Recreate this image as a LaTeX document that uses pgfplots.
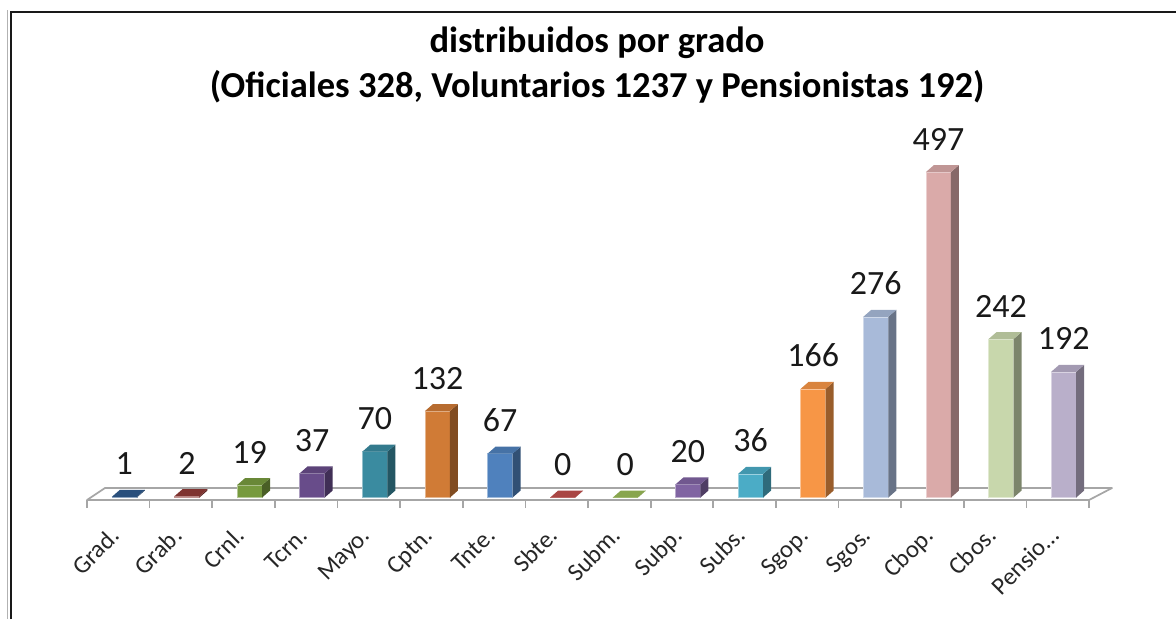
\documentclass[border=0pt]{standalone}
\usepackage{fontspec}
\setmainfont{Carlito}
\usepackage{pgfplots}
\pgfplotsset{compat=1.18}

\definecolor{f1}{HTML}{2F5A8D}
\definecolor{f2}{HTML}{8F3A37}
\definecolor{f3}{HTML}{779A3E}
\definecolor{f4}{HTML}{684C8A}
\definecolor{f5}{HTML}{3A8BA0}
\definecolor{f6}{HTML}{D07B36}
\definecolor{f7}{HTML}{4F81BD}
\definecolor{f8}{HTML}{C0504D}
\definecolor{f9}{HTML}{9BBB59}
\definecolor{f10}{HTML}{8064A2}
\definecolor{f11}{HTML}{4BACC6}
\definecolor{f12}{HTML}{F79646}
\definecolor{f13}{HTML}{A8BAD9}
\definecolor{f14}{HTML}{DAAAA9}
\definecolor{f15}{HTML}{C8D7AC}
\definecolor{f16}{HTML}{B9AFCA}
\newcommand{\mkshades}[1]{\colorlet{s#1}{f#1!62!black}\colorlet{t#1}{f#1!88!black}}
\mkshades{1}\mkshades{2}\mkshades{3}\mkshades{4}
\mkshades{5}\mkshades{6}\mkshades{7}\mkshades{8}
\mkshades{9}\mkshades{10}\mkshades{11}\mkshades{12}
\mkshades{13}\mkshades{14}\mkshades{15}\mkshades{16}
\definecolor{floorgray}{HTML}{A6A6A6}

\pgfplotsset{
  front/.style={ybar, bar width=18.75pt, bar shift=4.5pt, fill=#1, draw=#1!55!white, line width=0.4pt,
    nodes near coords,
    every node near coord/.append style={anchor=base, xshift=4.5pt, yshift=16.5pt, inner sep=0pt, text=black!90, font=\fontsize{25.5}{29}\selectfont}},
}

% side and top faces of a bar: #1 = category position, #2 = value, #3 = colour index
\newcommand{\sidetop}[3]{%
  \pgfmathsetmacro{\xa}{#1+0.29541}%
  \pgfmathsetmacro{\xb}{#1+0.42315}%
  \pgfmathsetmacro{\xc}{#1-0.10379}%
  \pgfmathsetmacro{\xd}{#1+0.02395}%
  \pgfmathsetmacro{\yt}{#2+10.689}%
  \edef\tmp{\noexpand\addplot[fill=s#3, draw=none, forget plot] coordinates {(\xa,0) (\xb,10.689) (\xb,\yt) (\xa,#2)} -- cycle;}\tmp
  \edef\tmp{\noexpand\addplot[fill=t#3, draw=none, forget plot] coordinates {(\xc,#2) (\xa,#2) (\xb,\yt) (\xd,\yt)} -- cycle;}\tmp
}

\begin{document}
\begin{tikzpicture}
\begin{scope}[x=0.75pt,y=-0.75pt]
\path[use as bounding box] (0,0) rectangle (1176,619);
\draw[black!30, line width=1.2pt] (7.5,619) -- (7.5,10);
\draw[black!90, line width=1.8pt] (11,619) -- (11,12) -- (1176,12);
\node[anchor=base, inner sep=0pt, font=\bfseries\fontsize{27.4}{32}\selectfont] at (597,52) {distribuidos por grado};
\node[anchor=base, inner sep=0pt, font=\bfseries\fontsize{27.4}{32}\selectfont] at (597,97) {(Oficiales 328, Voluntarios 1237 y Pensionistas 192)};
\end{scope}
\begin{axis}[
  set layers,
  at={(65.25pt,-381pt)}, anchor=south west,
  scale only axis, width=751.5pt, height=278pt,
  xmin=-0.5, xmax=15.5, ymin=-16, ymax=550,
  clip=false,
  axis line style={draw=none},
  ytick=\empty,
  xtick={0,...,15},
  xticklabels={Grad.,Grab.,Crnl.,Tcrn.,Mayo.,Cptn.,Tnte.,Sbte.,Subm.,Subp.,Subs.,Sgop.,Sgos.,Cbop.,Cbos.,Pensio…},
  major x tick style={draw=none},
  minor xtick={-0.5,0.5,...,15.5},
  minor x tick style={draw=floorgray, line width=1.3pt},
  minor tick length=6pt,
  xtick pos=bottom,
  tick align=inside,
  x tick label style={xshift=2pt, yshift=-22pt, rotate=45, anchor=base east, font=\fontsize{18.5}{21}\selectfont, text=black!85, inner sep=0pt},
  /pgf/number format/assume math mode=true,
]
\begin{pgfonlayer}{axis background}
\draw[floorgray, line width=1.3pt, fill=white, line join=round]
  (axis cs:-0.5,-3.8) -- (axis cs:15.5,-3.8) -- (axis cs:15.867,14.5) -- (axis cs:-0.213,14.5) -- cycle;
\end{pgfonlayer}

\addplot[front=f1] coordinates {(0,1)};
\addplot[front=f2] coordinates {(1,2)};
\addplot[front=f3] coordinates {(2,19)};
\addplot[front=f4] coordinates {(3,37)};
\addplot[front=f5] coordinates {(4,70)};
\addplot[front=f6] coordinates {(5,132)};
\addplot[front=f7] coordinates {(6,67)};
\addplot[front=f8] coordinates {(7,0)};
\addplot[front=f9] coordinates {(8,0)};
\addplot[front=f10] coordinates {(9,20)};
\addplot[front=f11] coordinates {(10,36)};
\addplot[front=f12] coordinates {(11,166)};
\addplot[front=f13] coordinates {(12,276)};
\addplot[front=f14] coordinates {(13,497)};
\addplot[front=f15] coordinates {(14,242)};
\addplot[front=f16] coordinates {(15,192)};

\sidetop{0}{1}{1}
\sidetop{1}{2}{2}
\sidetop{2}{19}{3}
\sidetop{3}{37}{4}
\sidetop{4}{70}{5}
\sidetop{5}{132}{6}
\sidetop{6}{67}{7}
\sidetop{7}{0}{8}
\sidetop{8}{0}{9}
\sidetop{9}{20}{10}
\sidetop{10}{36}{11}
\sidetop{11}{166}{12}
\sidetop{12}{276}{13}
\sidetop{13}{497}{14}
\sidetop{14}{242}{15}
\sidetop{15}{192}{16}
\end{axis}
\end{tikzpicture}
\end{document}
